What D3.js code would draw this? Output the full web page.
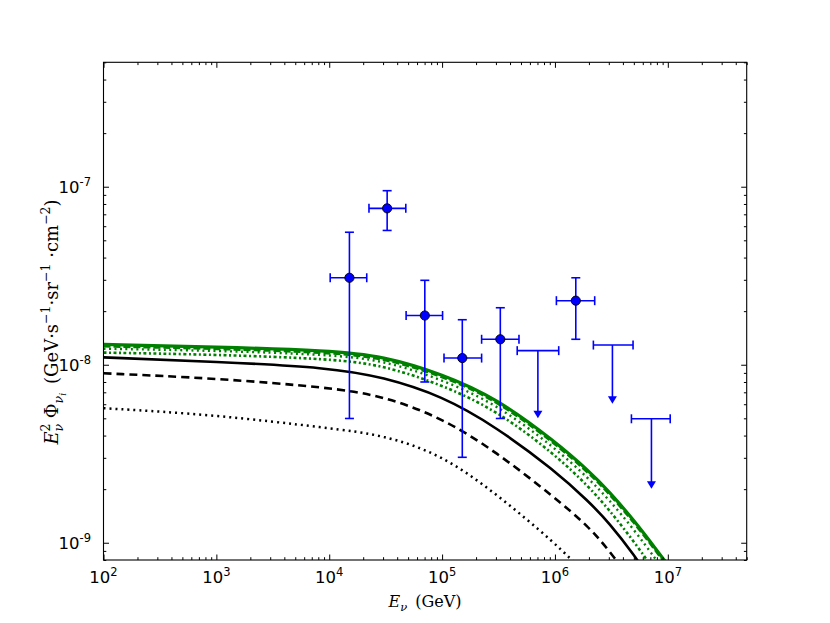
<!DOCTYPE html>
<html><head><meta charset="utf-8">
<script src="https://cdn.jsdelivr.net/npm/d3@7"></script>
<style>body{margin:0;background:#fff}</style>
</head><body>
<svg id="c" width="830" height="623"></svg>
<script>
// ---------- data ----------
const xDomain = [1e2, 5e7];
const yDomain = [8e-10, 5e-7];
const xTickValues = [1e2, 1e3, 1e4, 1e5, 1e6, 1e7];
const xTickExp = ["2", "3", "4", "5", "6", "7"];
const yTickValues = [1e-9, 1e-8, 1e-7];
const yTickExp = ["-9", "-8", "-7"];

const energies = [1e2, 1e3, 1e4, 3e4, 1e5, 3e5, 1e6, 2e6, 3e6, 5e6, 8e6, 1e7];
const blackSolid  = [1.10e-8, 1.04e-8, 9.64e-9, 8.53e-9, 6.68e-9, 4.48e-9, 2.54e-9, 1.70e-9, 1.30e-9, 8.61e-10, 5.48e-10, null];
const blackDashed = [8.95e-9, 8.39e-9, 7.45e-9, 6.68e-9, 5.03e-9, 3.25e-9, 1.79e-9, 1.23e-9, 9.07e-10, 5.93e-10, null, null];
const blackDotted = [5.70e-9, 5.23e-9, 4.40e-9, 4.04e-9, 3.12e-9, 1.89e-9, 1.00e-9, 6.40e-10, null, null, null, null];
const greenSolid  = [1.30e-8, 1.26e-8, 1.20e-8, 1.12e-8, 8.87e-9, 6.51e-9, 3.71e-9, 2.53e-9, 1.95e-9, 1.34e-9, 9.07e-10, 7.51e-10];
const greenDashed = [1.275e-8, 1.236e-8, 1.177e-8, 1.099e-8, 8.70e-9, 6.39e-9, 3.64e-9, 2.48e-9, 1.91e-9, 1.315e-9, 8.90e-10, 7.37e-10];
const greenDotted = [1.23e-8, 1.20e-8, 1.14e-8, 1.06e-8, 8.26e-9, 6.03e-9, 3.42e-9, 2.29e-9, 1.75e-9, 1.19e-9, 7.92e-10, null];
const greenDashDot= [1.17e-8, 1.14e-8, 1.08e-8, 9.96e-9, 7.70e-9, 5.58e-9, 3.14e-9, 2.06e-9, 1.54e-9, 1.02e-9, 6.66e-10, null];

// measured points with error bars
const ptE    = [1.51e4, 3.26e4, 7.03e4, 1.51e5, 3.28e5, 1.53e6];
const ptEmin = [1.02e4, 2.25e4, 4.80e4, 1.04e5, 2.24e5, 1.03e6];
const ptEmax = [2.15e4, 4.77e4, 1.01e5, 2.24e5, 4.80e5, 2.25e6];
const ptF    = [3.08e-8, 7.56e-8, 1.89e-8, 1.09e-8, 1.39e-8, 2.29e-8];
const ptFlo  = [4.99e-9, 5.68e-8, 8.00e-9, 3.02e-9, 4.99e-9, 1.39e-8];
const ptFhi  = [5.55e-8, 9.50e-8, 2.98e-8, 1.79e-8, 2.09e-8, 3.08e-8];

// upper limits
const ulE    = [7.06e5, 3.23e6, 7.16e6];
const ulEmin = [4.63e5, 2.19e6, 4.76e6];
const ulEmax = [1.08e6, 4.92e6, 1.05e7];
const ulF    = [1.20e-8, 1.29e-8, 4.97e-9];
const ulTip  = [5.00e-9, 6.03e-9, 2.01e-9];

// ---------- layout ----------
const L = 103.5, R = 746.7, T = 62.3, B = 560;
const x = d3.scaleLog().domain(xDomain).range([L, R]);
const y = d3.scaleLog().domain(yDomain).range([B, T]);
const svg = d3.select("#c");
svg.append("rect").attr("width", 830).attr("height", 623).attr("fill", "#fff");

svg.append("defs").append("clipPath").attr("id", "clip")
  .append("rect").attr("x", L).attr("y", T).attr("width", R - L).attr("height", B - T);

// ---------- curves ----------
const series = [
  {v: blackDotted, c: "#000", w: 2.5, d: "2,4"},
  {v: blackDashed, c: "#000", w: 2.6, d: "8,5"},
  {v: blackSolid,  c: "#000", w: 2.6, d: null},
  {v: greenDashDot,c: "#008000", w: 2.6, d: "3,2.5,2,2.5"},
  {v: greenDotted, c: "#008000", w: 2.4, d: "2,3.5"},
  {v: greenSolid,  c: "#008000", w: 3.2, d: null},
  {v: greenDashed, c: "#008000", w: 3.2, d: "7,3"}
];
const line = d3.line()
  .defined(d => d[1] != null)
  .x(d => x(d[0])).y(d => y(d[1]))
  .curve(d3.curveBasis);
const gc = svg.append("g").attr("clip-path", "url(#clip)");
series.forEach(s => {
  gc.append("path")
    .attr("d", line(energies.map((e, i) => [e, s.v[i]])))
    .attr("fill", "none").attr("stroke", s.c).attr("stroke-width", s.w)
    .attr("stroke-dasharray", s.d).attr("stroke-linecap", "butt");
});

// ---------- error bars ----------
const blue = "#0000ff";
const gp = svg.append("g").attr("stroke", blue).attr("stroke-width", 1.6);
const cap = 4.5;
ptE.forEach((e, i) => {
  const cx = x(e), cy = y(ptF[i]);
  gp.append("line").attr("x1", x(ptEmin[i])).attr("x2", x(ptEmax[i])).attr("y1", cy).attr("y2", cy);
  gp.append("line").attr("x1", cx).attr("x2", cx).attr("y1", y(ptFlo[i])).attr("y2", y(ptFhi[i]));
  [ptEmin[i], ptEmax[i]].forEach(v => gp.append("line").attr("x1", x(v)).attr("x2", x(v)).attr("y1", cy - cap).attr("y2", cy + cap));
  [ptFlo[i], ptFhi[i]].forEach(v => gp.append("line").attr("x1", cx - cap).attr("x2", cx + cap).attr("y1", y(v)).attr("y2", y(v)));
});
ulE.forEach((e, i) => {
  const cx = x(e), cy = y(ulF[i]), ty = y(ulTip[i]);
  gp.append("line").attr("x1", x(ulEmin[i])).attr("x2", x(ulEmax[i])).attr("y1", cy).attr("y2", cy);
  [ulEmin[i], ulEmax[i]].forEach(v => gp.append("line").attr("x1", x(v)).attr("x2", x(v)).attr("y1", cy - cap).attr("y2", cy + cap));
  gp.append("line").attr("x1", cx).attr("x2", cx).attr("y1", cy).attr("y2", ty - 5);
  svg.append("path").attr("d", `M${cx - 4.5},${ty - 7.5}L${cx + 4.5},${ty - 7.5}L${cx},${ty}Z`).attr("fill", blue);
});
svg.append("g").selectAll("circle").data(ptE).join("circle")
  .attr("cx", d => x(d)).attr("cy", (d, i) => y(ptF[i])).attr("r", 4.6)
  .attr("fill", blue).attr("stroke", "#000").attr("stroke-width", 0.9);

// ---------- axes ----------
const xMinor = x.ticks().filter(v => !xTickValues.some(t => Math.abs(t - v) / t < 1e-6));
const yMinor = y.ticks().filter(v => !yTickValues.some(t => Math.abs(t - v) / t < 1e-6));
function ax(gen, tr, vals, size) {
  const g = svg.append("g").attr("transform", tr)
    .call(gen.tickValues(vals).tickSize(size).tickSizeOuter(0).tickFormat(""));
  g.select(".domain").remove();
  g.selectAll("line").attr("stroke", "#000").attr("stroke-width", 1);
}
ax(d3.axisBottom(x), `translate(0,${B})`, xTickValues, -5.5);
ax(d3.axisBottom(x), `translate(0,${B})`, xMinor, -2.8);
ax(d3.axisTop(x), `translate(0,${T})`, xTickValues, -5.5);
ax(d3.axisTop(x), `translate(0,${T})`, xMinor, -2.8);
ax(d3.axisLeft(y), `translate(${L},0)`, yTickValues, -5.5);
ax(d3.axisLeft(y), `translate(${L},0)`, yMinor, -2.8);
ax(d3.axisRight(y), `translate(${R},0)`, yTickValues, -5.5);
ax(d3.axisRight(y), `translate(${R},0)`, yMinor, -2.8);

svg.append("rect").attr("x", L).attr("y", T).attr("width", R - L).attr("height", B - T)
  .attr("fill", "none").attr("stroke", "#000").attr("stroke-width", 1.1);

// tick labels
const tf = "DejaVu Sans, sans-serif";
xTickValues.forEach((v, i) => {
  const t = svg.append("text").attr("x", x(v)).attr("y", 583).attr("text-anchor", "middle")
    .attr("font-family", tf).attr("font-size", 16.5);
  t.append("tspan").text("10");
  t.append("tspan").attr("dy", -7).attr("font-size", 11.5).text(xTickExp[i]);
});
yTickValues.forEach((v, i) => {
  const t = svg.append("text").attr("x", 91).attr("y", y(v) + 6).attr("text-anchor", "end")
    .attr("font-family", tf).attr("font-size", 16.5);
  t.append("tspan").text("10");
  t.append("tspan").attr("dy", -7).attr("font-size", 11.5).text(yTickExp[i]);
});

// axis titles
const sf = "DejaVu Serif, serif";
const xl = svg.append("text").attr("x", 425).attr("y", 607).attr("text-anchor", "middle")
  .attr("font-family", sf).attr("font-size", 16);
xl.append("tspan").attr("font-style", "italic").text("E");
xl.append("tspan").attr("font-style", "italic").attr("font-size", 11.5).attr("dy", 4).text("ν");
xl.append("tspan").attr("dy", -4).text("\u2002(GeV)");

const yl = svg.append("text").attr("transform", "translate(58,322) rotate(-90)")
  .attr("text-anchor", "middle").attr("font-family", sf).attr("font-size", 18);
yl.append("tspan").attr("font-style", "italic").text("E");
yl.append("tspan").attr("font-size", 12.5).attr("dy", -8).text("2");
yl.append("tspan").attr("font-size", 12.5).attr("font-style", "italic").attr("dx", -8).attr("dy", 13).text("ν");
yl.append("tspan").attr("dy", -5).text(" Φ");
yl.append("tspan").attr("font-size", 12.5).attr("font-style", "italic").attr("dy", 5).text("ν");
yl.append("tspan").attr("font-size", 9).attr("font-style", "italic").attr("dy", 3).text("i");
yl.append("tspan").attr("dy", -8).text("\u2002(GeV·s");
yl.append("tspan").attr("font-size", 12.5).attr("dy", -8).text("−1");
yl.append("tspan").attr("dy", 8).text("·sr");
yl.append("tspan").attr("font-size", 12.5).attr("dy", -8).text("−1");
yl.append("tspan").attr("dy", 8).text(" ·cm");
yl.append("tspan").attr("font-size", 12.5).attr("dy", -8).text("−2");
yl.append("tspan").attr("dy", 8).text(")");
</script>
</body></html>
